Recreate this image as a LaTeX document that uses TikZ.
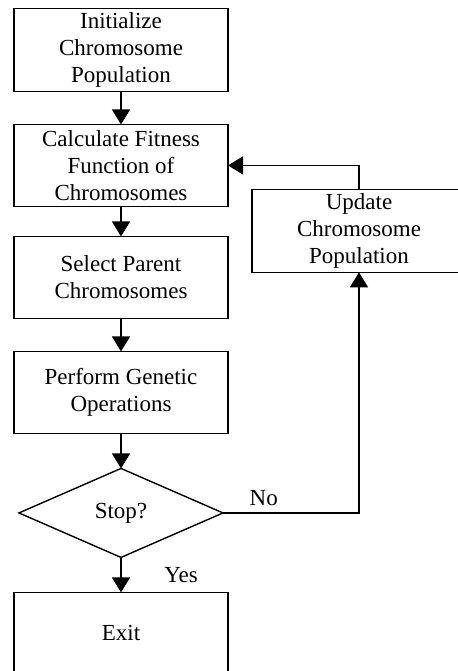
\documentclass[tikz,border=0pt]{standalone}
\usepackage{fontspec}
\setmainfont{Liberation Serif}
\usepackage{tikz}
\usetikzlibrary{shapes.geometric,arrows.meta,positioning}

\begin{document}
\begin{tikzpicture}[node distance=16.5pt,
  every node/.style={font=\fontsize{11.5}{13.5}\selectfont},
  proc/.style={rectangle, draw=black, line width=0.7pt, inner sep=2pt, outer sep=0pt,
               minimum width=107pt, minimum height=41pt, align=center},
  decide/.style={diamond, draw=black, line width=0.7pt, inner sep=0pt, outer sep=0pt,
                 minimum width=102pt, minimum height=44.5pt, shape aspect=2.3},
  arr/.style={-{Triangle[length=7.5pt,width=9pt]}, line width=0.7pt, black}]

  \useasboundingbox (0,0) rectangle (228.5pt,-335.5pt);

  \node[proc] at (60.5pt,-25pt) (init) {Initialize\\Chromosome\\Population};
  \node[proc, below=of init] (fit) {Calculate Fitness\\Function of\\Chromosomes};
  \node[proc, below=15pt of fit] (select) {Select Parent\\Chromosomes};
  \node[proc, below=of select] (genop) {Perform Genetic\\Operations};
  \node[decide, below=17.5pt of genop] (stop) {Stop?};
  \node[proc, below=17.5pt of stop] (exit) {Exit};
  \node[proc, right=12pt of fit, yshift=-32.75pt] (upd) {Update\\Chromosome\\Population};

  \draw[arr] (init) -- (fit);
  \draw[arr] (fit) -- (select);
  \draw[arr] (select) -- (genop);
  \draw[arr] (genop) -- (stop);
  \draw[arr] (stop) -- node[midway, right=18pt] {Yes} (exit);
  \draw[arr] (stop.east) -| node[pos=0.15, above] {No} (upd.south);
  \draw[arr] (upd.north) |- (fit.east);

\end{tikzpicture}
\end{document}
